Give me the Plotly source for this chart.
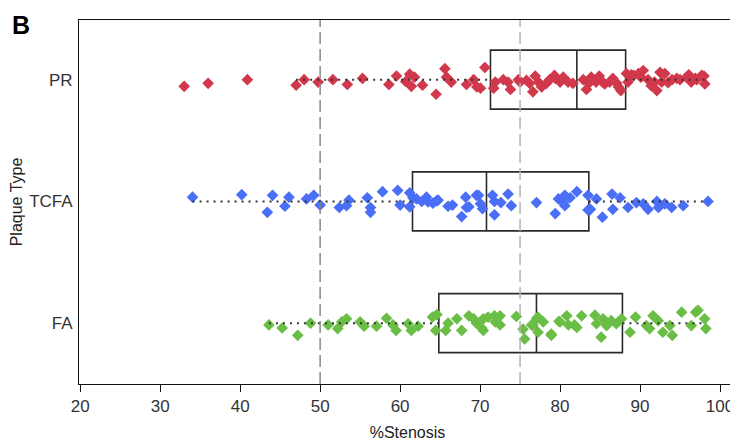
import plotly.graph_objects as go

categories = ["FA", "TCFA", "PR"]

# Box statistics (%Stenosis)
box_q1 = [64.84, 61.55, 71.3]
box_median = [77.05, 70.8, 82.1]
box_q3 = [87.8, 83.6, 88.2]

# Individual lesions: %Stenosis and vertical jitter (category units)
pr_x = [33.0, 36.0, 40.9, 47.0, 48.0, 49.75, 51.6, 53.4, 55.3, 58.6, 59.55, 60.7, 61.2, 61.8, 61.4,
        62.8, 64.5, 65.6, 65.8, 66.4, 68.3, 69.2, 69.6, 70.05, 70.6, 71.7, 71.9, 72.9, 73.5, 73.8,
        74.8, 75.0, 75.8, 76.2, 76.6, 76.9, 77.3, 77.7, 78.3, 78.7, 79.3, 79.4, 80.0, 80.4, 81.0,
        81.6, 82.9, 83.3, 83.6, 83.9, 84.5, 84.9, 85.4, 85.6, 86.2, 86.6, 87.1, 87.3, 87.6, 88.3,
        88.5, 88.9, 89.2, 89.8, 90.1, 90.4, 91.0, 91.4, 91.8, 92.1, 92.5, 92.7, 93.1, 93.5, 94.0,
        94.6, 95.0, 95.8, 96.1, 96.4, 96.9, 97.1, 97.7, 98.0, 98.1]
pr_jit = [-0.055, -0.03, 0.0, -0.045, 0.0, -0.02, 0.0, -0.04, 0.01, -0.04, 0.03, -0.015, 0.045, 0.02, -0.055,
          -0.045, -0.12, 0.09, 0.02, -0.02, -0.04, 0.0, -0.06, -0.07, 0.10, -0.07, -0.02, 0.0, -0.02, -0.08,
          0.0, -0.02, -0.005, -0.03, -0.10, 0.03, -0.02, -0.06, -0.03, 0.0, 0.035, 0.01, -0.02, 0.02, -0.02,
          -0.03, 0.0, -0.08, -0.03, 0.02, -0.02, 0.03, -0.025, -0.035, -0.02, 0.01, -0.03, -0.06, -0.09, 0.05,
          -0.02, 0.04, 0.035, 0.05, 0.02, 0.075, 0.0, -0.05, -0.02, -0.09, 0.06, -0.02, 0.05, -0.025, 0.0,
          0.01, 0.0, 0.02, 0.04, -0.02, 0.01, 0.0, 0.035, 0.03, -0.035]

tcfa_x = [34.05, 40.2, 43.4, 44.05, 45.6, 46.1, 48.3, 49.2, 50.0, 52.4, 53.3, 53.6, 55.9, 56.3, 56.3,
          57.8, 59.7, 60.0, 61.2, 61.2, 61.6, 62.05, 62.7, 63.3, 63.5, 64.1, 64.55, 64.75, 66.0, 66.55,
          67.7, 68.2, 68.3, 68.6, 69.55, 69.8, 70.05, 70.3, 71.55, 71.8, 71.8, 72.6, 73.5, 73.9, 77.05,
          79.4, 79.8, 80.4, 80.6, 80.6, 81.25, 82.1, 83.5, 83.5, 83.8, 84.55, 85.3, 86.5, 86.6, 87.5,
          88.5, 89.55, 90.4, 91.0, 92.1, 92.3, 93.1, 93.95, 95.4, 98.5]
tcfa_jit = [0.035, 0.055, -0.09, 0.05, -0.04, 0.035, 0.02, 0.05, -0.03, -0.05, -0.035, 0.01, 0.03, -0.05, -0.09,
            0.08, 0.09, -0.03, 0.07, -0.045, 0.03, 0.02, 0.0, 0.035, -0.005, -0.015, 0.005, 0.01, -0.04, -0.03,
            -0.125, 0.035, -0.05, -0.045, 0.05, 0.05, -0.02, -0.06, 0.05, 0.0, -0.11, -0.01, 0.06, -0.035, -0.01,
            -0.10, 0.02, -0.01, 0.05, -0.035, 0.03, 0.08, 0.05, -0.07, -0.065, 0.02, -0.13, 0.06, -0.065, 0.03,
            -0.05, -0.01, -0.02, -0.065, 0.0, -0.05, -0.02, -0.05, -0.035, 0.0]

fa_x = [43.6, 45.25, 47.2, 48.8, 51.0, 52.2, 52.7, 53.3, 55.0, 55.5, 57.05, 58.3, 59.1, 59.5, 61.0,
        61.4, 62.25, 64.05, 64.6, 64.45, 65.7, 66.0, 67.1, 67.7, 68.6, 69.2, 69.55, 70.2, 70.4, 70.4,
        71.0, 71.8, 71.9, 72.5, 72.5, 74.54, 75.37, 75.57, 76.45, 76.6, 77.05, 77.23, 77.25, 77.9, 78.9,
        78.9, 79.86, 80.0, 80.84, 81.04, 81.8, 82.1, 82.7, 84.36, 84.55, 85.14, 85.38, 85.82, 86.4, 87.04,
        87.68, 88.75, 89.44, 90.8, 91.2, 91.63, 92.27, 92.85, 93.73, 94.03, 95.2, 96.42, 96.96, 97.25, 98.08,
        98.23]
fa_jit = [-0.015, -0.04, -0.10, 0.0, -0.015, -0.045, 0.01, 0.035, 0.01, -0.025, -0.025, 0.04, -0.015, -0.06, -0.005,
          -0.06, -0.025, 0.05, 0.07, -0.06, -0.06, 0.0, 0.035, -0.06, 0.06, 0.035, 0.0, -0.04, 0.035, -0.06,
          0.05, 0.06, 0.01, 0.06, -0.015, 0.055, -0.05, -0.13, -0.015, -0.02, 0.035, 0.05, -0.075, 0.01, -0.09,
          -0.10, 0.015, 0.01, 0.06, -0.015, -0.015, -0.035, 0.06, 0.065, -0.005, -0.115, 0.035, -0.02, 0.02, -0.005,
          0.035, -0.075, 0.05, -0.02, -0.045, 0.06, 0.02, -0.075, -0.02, -0.10, 0.09, -0.02, 0.09, 0.105, 0.035,
          -0.045]

x_ticks = [20, 30, 40, 50, 60, 70, 80, 90, 100]
ref_lines = [50, 75]

colors = ["#6BBE45", "#4A6EF5", "#D1384B"]
groups = [(fa_x, fa_jit), (tcfa_x, tcfa_jit), (pr_x, pr_jit)]

fig = go.Figure()

# reference dashed lines
for v, c in zip(ref_lines, ["#8a8a8a", "#b4b4b4"]):
    fig.add_shape(type="line", x0=v, x1=v, y0=0, y1=1, xref="x", yref="paper",
                  line=dict(color=c, width=1.5, dash="12px,5px"), layer="above")

# points
for i, ((xs, js), col) in enumerate(zip(groups, colors)):
    fig.add_trace(go.Scatter(
        x=xs, y=[i + j for j in js], mode="markers",
        marker=dict(symbol="diamond", size=9, color=col, line=dict(width=0)),
        showlegend=False, hoverinfo="x"))

# dotted whiskers (1.5 IQR rule on the data)
for i, (xs, js) in enumerate(groups):
    q1, q3 = box_q1[i], box_q3[i]
    iqr = q3 - q1
    lo = min(v for v in xs if v >= q1 - 1.5 * iqr)
    hi = max(v for v in xs if v <= q3 + 1.5 * iqr)
    fig.add_trace(go.Scatter(
        x=[lo, q1, None, q3, hi], y=[i, i, None, i, i], mode="lines",
        line=dict(color="#333333", width=2, dash="2px,5px"),
        showlegend=False, hoverinfo="skip"))

# boxes
fig.add_trace(go.Box(
    y=[0, 1, 2], q1=box_q1, median=box_median, q3=box_q3,
    lowerfence=box_q1, upperfence=box_q3, orientation="h",
    width=0.485, whiskerwidth=0, fillcolor="rgba(0,0,0,0)",
    line=dict(color="#2a2a2a", width=1.6), boxpoints=False,
    showlegend=False))

font_family = "Liberation Sans, Arial, sans-serif"

# page body has an 8px margin, so the figure is sized to fill the rest of the window
fig.update_layout(
    width=730, height=433,
    margin=dict(l=71, r=2, t=12, b=57, autoexpand=False),
    paper_bgcolor="white", plot_bgcolor="white",
    font=dict(family=font_family, size=15, color="#222"),
    xaxis=dict(range=[19.85, 102.0], tickvals=x_ticks, ticktext=[str(t) for t in x_ticks],
               showline=True, mirror=True, linecolor="#111", linewidth=1,
               ticks="outside", ticklen=7, tickcolor="#111", tickwidth=1,
               showgrid=False, zeroline=False, automargin=False,
               tickfont=dict(size=17, color="#333"),
               title=dict(text="%Stenosis", font=dict(size=16, color="#222"), standoff=11)),
    yaxis=dict(range=[-0.5, 2.49], tickvals=[0, 1, 2], ticktext=categories,
               showline=True, mirror=True, linecolor="#111", linewidth=1,
               ticks="", showgrid=False, zeroline=False, automargin=False,
               ticklabelstandoff=2,
               tickfont=dict(size=17, color="#333"),
               title=dict(text="Plaque Type", font=dict(size=16, color="#222"), standoff=6)),
    annotations=[dict(text="<b>B</b>", x=-0.105, y=1.030, xref="paper", yref="paper",
                      xanchor="left", yanchor="top", showarrow=False,
                      font=dict(size=25, color="black", family=font_family))],
)

fig.write_html("out.html")
